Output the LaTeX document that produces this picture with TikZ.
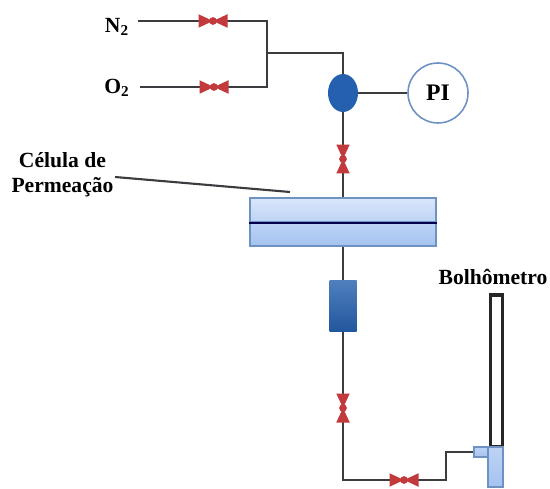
\documentclass[tikz,border=0pt]{standalone}
\usepackage{fontspec}
\setmainfont{Liberation Serif}
\usetikzlibrary{shapes.geometric,backgrounds}
\definecolor{pipe}{HTML}{3C3C40}
\definecolor{valvered}{HTML}{C23A3C}
\definecolor{darkblue}{HTML}{2460AE}
\definecolor{rimblue}{HTML}{6E92C2}
\definecolor{paleblue}{HTML}{DAE7FB}
\definecolor{midblue}{HTML}{BDD3F5}
\definecolor{softblue}{HTML}{A5C3F0}
\tikzset{
  pipeline/.style={draw=pipe,line width=1.3pt},
  label/.style={font=\bfseries\fontsize{12.3}{14}\selectfont,inner sep=0pt,align=center},
  valveh/.style={minimum width=0.58cm,minimum height=0.27cm,inner sep=0pt,
    path picture={\fill[valvered] (path picture bounding box.north west)
      -- (path picture bounding box.south east)
      -- (path picture bounding box.north east)
      -- (path picture bounding box.south west) -- cycle;
      \fill[valvered] (path picture bounding box.center) circle (2.2pt);}},
  valvev/.style={minimum width=0.27cm,minimum height=0.58cm,inner sep=0pt,
    path picture={\fill[valvered] (path picture bounding box.north west)
      -- (path picture bounding box.north east)
      -- (path picture bounding box.south west)
      -- (path picture bounding box.south east) -- cycle;
      \fill[valvered] (path picture bounding box.center) circle (2.2pt);}},
  halfcell/.style={draw=rimblue,line width=0.9pt,minimum width=3.72cm,minimum height=0.48cm,inner sep=0pt},
  meterglass/.style={rectangle,draw=rimblue,top color=midblue,bottom color=softblue,line width=0.8pt,inner sep=0pt}
}
\begin{document}
\begin{tikzpicture}[x=0.02cm,y=-0.02cm]
   \useasboundingbox (0,0) rectangle (550,489);
   % gas lines
   \node[label] (nitro) at (117,27) {N$_{\mathbf{2}}$};
   \node[label] (oxy) at (117,88) {O$_{\mathbf{2}}$};
   \coordinate (nstart) at (138,21);
   \coordinate (ostart) at (140,87);
   \coordinate (ncorner) at (267,21);
   \coordinate (ocorner) at (267,87);
   \coordinate (join) at (267,53);
   \coordinate (top) at (343,53);
   \node[valveh] (vn) at (213,21) {};
   \node[valveh] (vo) at (214,87) {};
   % pressure
   \node[ellipse,fill=darkblue,minimum width=0.6cm,minimum height=0.76cm,inner sep=0pt] (gauge) at (343,93) {};
   \node[circle,draw=rimblue,fill=white,line width=0.9pt,minimum size=1.2cm,inner sep=0pt,
     font=\bfseries\fontsize{13.5}{16}\selectfont] (pi) at (438,93) {PI};
   \node[valvev] (vtop) at (343,159) {};
   % cell
   \node[halfcell,top color=paleblue,bottom color=midblue] (upper) at (343,210) {};
   \node[halfcell,top color=midblue,bottom color=softblue] (lower) at (343,234) {};
   \draw[draw=black!70!blue,line width=1.3pt] (upper.south west) -- (upper.south east);
   \node[label] (cell) at (62.5,175) {Célula de\\Permeação};
   \coordinate (celltip) at (290,192);
   \coordinate (cellfoot) at (115,177);
   \draw[pipe,line width=1.2pt] (cellfoot) -- (celltip);
   % lower line
   \node[rectangle,top color=darkblue!80!white,bottom color=darkblue!90!black,minimum width=0.54cm,minimum height=1.04cm,inner sep=0pt] (filter) at (343,306) {};
   \node[valvev] (vlow) at (343,408) {};
   \node[valveh] (vbot) at (404,480) {};
   \coordinate (lowcorner) at (343,480);
   \coordinate (stepa) at (446,480);
   \coordinate (stepb) at (446,452);
   % flow meter
   \node[rectangle,draw=black!85,fill=white,line width=1.8pt,minimum width=0.24cm,minimum height=3.04cm,inner sep=0pt] (tube) at (496.5,371) {};
   \node[meterglass,minimum width=0.3cm,minimum height=0.8cm] (bulb) at (495.5,467) {};
   \node[meterglass,minimum width=0.28cm,minimum height=0.2cm] (tap) at (481,452) {};
   \node[label] (meter) at (493,277) {Bolhômetro};
   \begin{pgfonlayer}{background}
   \draw[pipeline] (nstart) -- (vn.center) -- (ncorner) -- (ocorner) -- (vo.center) -- (ostart);
   \draw[pipeline] (join) -- (top) -- (gauge);
   \draw[pipeline] (gauge) -- (pi);
   \draw[pipeline] (gauge) -- (vtop.center) -- (upper);
   \draw[pipeline] (lower) -- (filter);
   \draw[pipeline] (filter) -- (vlow.center) -- (lowcorner) -- (vbot.center) -- (stepa) -- (stepb) -- (tap);
   \end{pgfonlayer}
\end{tikzpicture}
\end{document}
